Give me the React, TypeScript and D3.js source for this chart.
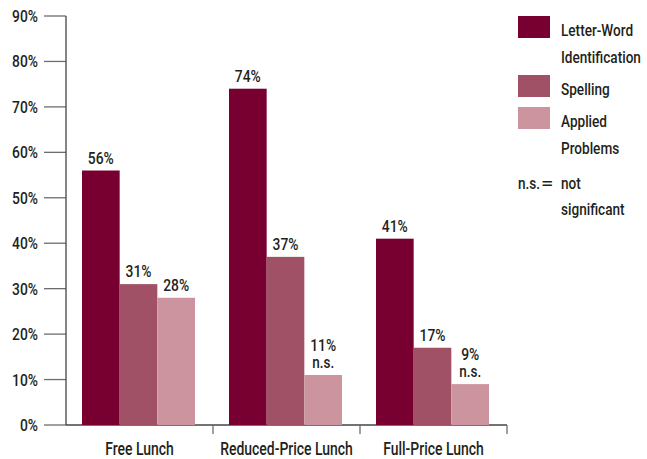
import React, { useEffect, useRef } from "react";
import * as d3 from "d3";

const categories = ["Free Lunch", "Reduced-Price Lunch", "Full-Price Lunch"];
const series = ["Letter-Word Identification", "Spelling", "Applied Problems"];
const letterWord = [56, 74, 41];
const spelling = [31, 37, 17];
const applied = [28, 11, 9];
// n.s. flags per category for Applied Problems
const appliedNs = [false, true, true];
const yTicks = [0, 10, 20, 30, 40, 50, 60, 70, 80, 90];
const legendLines = [["Letter-Word", "Identification"], ["Spelling"], ["Applied", "Problems"]];

const colors = ["#780030", "#a15165", "#cb949e"];
const FONT = "Roboto, 'Liberation Sans', sans-serif";
const INK = "#231f20";

// condensed-looking text: regular font squeezed horizontally
const label = (
  parent: d3.Selection<any, unknown, null, undefined>,
  x: number,
  y: number,
  txt: string,
  opts: { size?: number; sx?: number; anchor?: string } = {}
) => {
  const { size = 16, sx = 0.82, anchor = "start" } = opts;
  parent
    .append("text")
    .attr("transform", `translate(${x},${y}) scale(${sx},1)`)
    .attr("text-anchor", anchor)
    .attr("fill", INK)
    .style("font-family", FONT)
    .style("font-weight", 500)
    .style("font-size", `${size}px`)
    .text(txt);
};

const App = () => {
  const svgRef = useRef<SVGSVGElement | null>(null);

  useEffect(() => {
    const width = 647;
    const height = 459;
    const svg = d3.select(svgRef.current);
    svg.selectAll("*").remove();
    svg.attr("width", width).attr("height", height);

    const x0 = d3.scaleBand<string>().domain(categories).range([66, 507]);
    const x1 = d3.scaleBand<string>().domain(series).range([16, 16 + 113]);
    const y = d3.scaleLinear().domain([0, 90]).range([425, 16]);

    const values = [letterWord, spelling, applied];

    // y ticks + labels
    const yAxis = svg.append("g");
    yAxis
      .selectAll("line")
      .data(yTicks)
      .join("line")
      .attr("x1", 44)
      .attr("x2", 66)
      .attr("y1", (d) => y(d))
      .attr("y2", (d) => y(d))
      .attr("stroke", "#6d6d6d")
      .attr("stroke-width", 1.3);
    yTicks.forEach((t) => label(yAxis, 38, y(t) + 6, `${t}%`, { size: 16.5, sx: 0.84, anchor: "end" }));

    svg
      .append("line")
      .attr("x1", 66)
      .attr("x2", 66)
      .attr("y1", 16)
      .attr("y2", 425)
      .attr("stroke", "#444")
      .attr("stroke-width", 1.3);

    // x axis
    svg
      .append("line")
      .attr("x1", 66)
      .attr("x2", 507)
      .attr("y1", 425)
      .attr("y2", 425)
      .attr("stroke", "#444")
      .attr("stroke-width", 1.3);
    svg
      .append("g")
      .selectAll("line")
      .data(categories)
      .join("line")
      .attr("x1", (d) => x0(d)! + x0.bandwidth())
      .attr("x2", (d) => x0(d)! + x0.bandwidth())
      .attr("y1", 425)
      .attr("y2", 434)
      .attr("stroke", "#6d6d6d")
      .attr("stroke-width", 1.3);
    const xLabels = svg.append("g");
    categories.forEach((c) =>
      label(xLabels, x0(c)! + x0.bandwidth() / 2, 455, c, { size: 18, sx: 0.775, anchor: "middle" })
    );

    // bars
    categories.forEach((cat, ci) => {
      const g = svg.append("g").attr("transform", `translate(${x0(cat)},0)`);
      series.forEach((s, si) => {
        const v = values[si][ci];
        const cx = x1(s)! + x1.bandwidth() / 2;
        g.append("rect")
          .attr("x", x1(s)!)
          .attr("y", y(v))
          .attr("width", x1.bandwidth())
          .attr("height", y(0) - y(v))
          .attr("fill", colors[si]);
        const ns = si === 2 && appliedNs[ci];
        label(g, cx, y(v) - (ns ? 24 : 7), `${v}%`, { size: 16.5, sx: 0.84, anchor: "middle" });
        if (ns) label(g, cx, y(v) - 7, "n.s.", { size: 16.5, sx: 0.82, anchor: "middle" });
      });
    });

    // legend
    const swatchY = [16, 75, 107];
    const legend = svg.append("g");
    series.forEach((s, i) => {
      legend
        .append("rect")
        .attr("x", 518)
        .attr("y", swatchY[i])
        .attr("width", 32)
        .attr("height", 22)
        .attr("fill", colors[i]);
      legendLines[i].forEach((line, li) => label(legend, 561, swatchY[i] + 20 + li * 27, line, { size: 17, sx: 0.8 }));
    });
    label(legend, 518, 189, "n.s.", { size: 17, sx: 0.8 });
    label(legend, 541, 189, "=", { size: 17, sx: 1.3 });
    label(legend, 561, 189, "not", { size: 17, sx: 0.8 });
    label(legend, 561, 215, "significant", { size: 17, sx: 0.8 });
  }, []);

  return <svg ref={svgRef} style={{ position: "absolute", left: 0, top: 0, background: "#fff" }}></svg>;
};

export default App;
